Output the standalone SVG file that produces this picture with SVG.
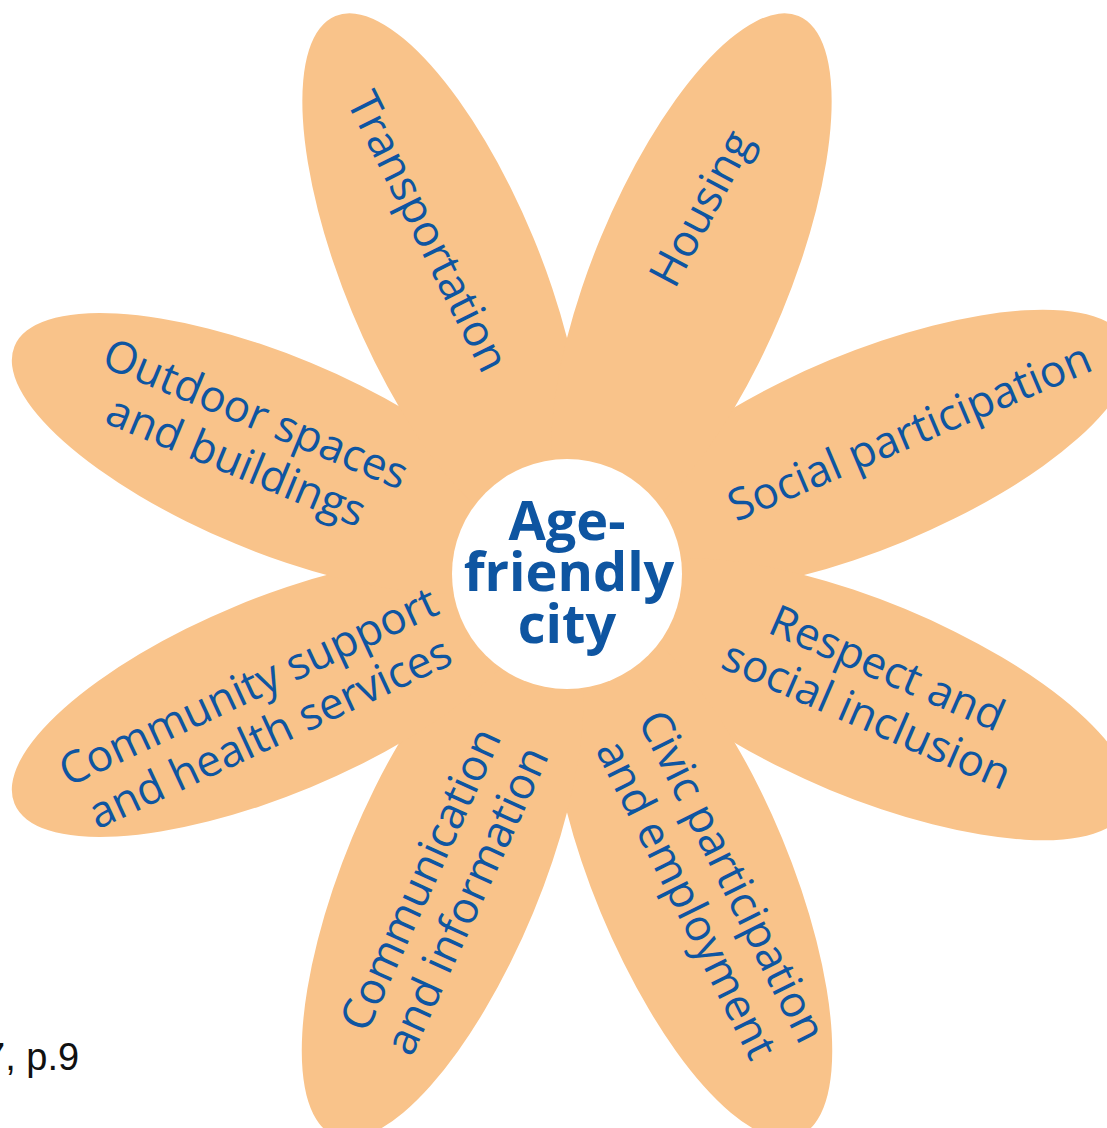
<svg xmlns="http://www.w3.org/2000/svg" width="1107" height="1128" viewBox="0 0 1107 1128">
<style>
.petal{fill:#F9C38A;stroke:none}
.lbl{font-family:"Open Sans","Noto Sans","Liberation Sans",sans-serif;font-size:44px;fill:#0E55A1;text-anchor:middle}
.ctr{font-family:"Open Sans","Noto Sans","Liberation Sans",sans-serif;font-size:54px;font-weight:bold;fill:#0E55A1;text-anchor:middle}
.src{font-family:"Liberation Sans","Arial",sans-serif;font-size:38px;fill:#111111}
</style>
<rect width="1107" height="1128" fill="#ffffff"/>
<g id="petals">
  <g id="petal-social" transform="translate(567 575) rotate(-22.5)"><ellipse class="petal" cx="325" cy="0" rx="282" ry="98"/></g>
  <g id="petal-respect" transform="translate(567 575) rotate(22.5)"><ellipse class="petal" cx="325" cy="0" rx="282" ry="98"/></g>
  <g id="petal-civic" transform="translate(567 575) rotate(67.5)"><ellipse class="petal" cx="325" cy="0" rx="282" ry="98"/></g>
  <g id="petal-communication" transform="translate(567 575) rotate(112.5)"><ellipse class="petal" cx="325" cy="0" rx="282" ry="98"/></g>
  <g id="petal-community" transform="translate(567 575) rotate(157.5)"><ellipse class="petal" cx="318" cy="0" rx="280" ry="98"/></g>
  <g id="petal-outdoor" transform="translate(567 575) rotate(202.5)"><ellipse class="petal" cx="318" cy="0" rx="280" ry="98"/></g>
  <g id="petal-transportation" transform="translate(567 575) rotate(247.5)"><ellipse class="petal" cx="325" cy="0" rx="280" ry="98"/></g>
  <g id="petal-housing" transform="translate(567 575) rotate(292.5)"><ellipse class="petal" cx="325" cy="0" rx="280" ry="98"/></g>
</g>
<g id="connectors"/>
<g id="center">
  <circle cx="567" cy="574" r="115" fill="#ffffff"/>
  <text class="ctr" x="567" y="540">Age-</text>
  <text class="ctr" x="569" y="591">friendly</text>
  <text class="ctr" x="567" y="643">city</text>
</g>
<g id="label-transportation" transform="translate(427 232) rotate(63.5)">
  <text class="lbl" x="0" y="14">Transportation</text>
</g>
<g id="label-housing" transform="translate(702 209) rotate(-62)">
  <text class="lbl" x="0" y="14">Housing</text>
</g>
<g id="label-social" transform="translate(910 433) rotate(-23)">
  <text class="lbl" x="0" y="14">Social participation</text>
</g>
<g id="label-respect" transform="translate(876 694) rotate(23.5)">
  <text class="lbl" x="0" y="-13">Respect and</text>
  <text class="lbl" x="0" y="38">social inclusion</text>
</g>
<g id="label-civic" transform="translate(707 889) rotate(63.5)">
  <text class="lbl" x="0" y="-13">Civic participation</text>
  <text class="lbl" x="0" y="38">and employment</text>
</g>
<g id="label-communication" transform="translate(446 891) rotate(-65.5)">
  <text class="lbl" x="0" y="-13">Communication</text>
  <text class="lbl" x="0" y="38">and information</text>
</g>
<g id="label-community" transform="translate(260 712) rotate(-25)">
  <text class="lbl" x="0" y="-13">Community support</text>
  <text class="lbl" x="0" y="38">and health services</text>
</g>
<g id="label-outdoor" transform="translate(245 440) rotate(22.5)">
  <text class="lbl" x="0" y="-13">Outdoor spaces</text>
  <text class="lbl" x="0" y="38">and buildings</text>
</g>
<g id="source">
  <text class="src" x="-16" y="1070">7, p.9</text>
</g>
</svg>
